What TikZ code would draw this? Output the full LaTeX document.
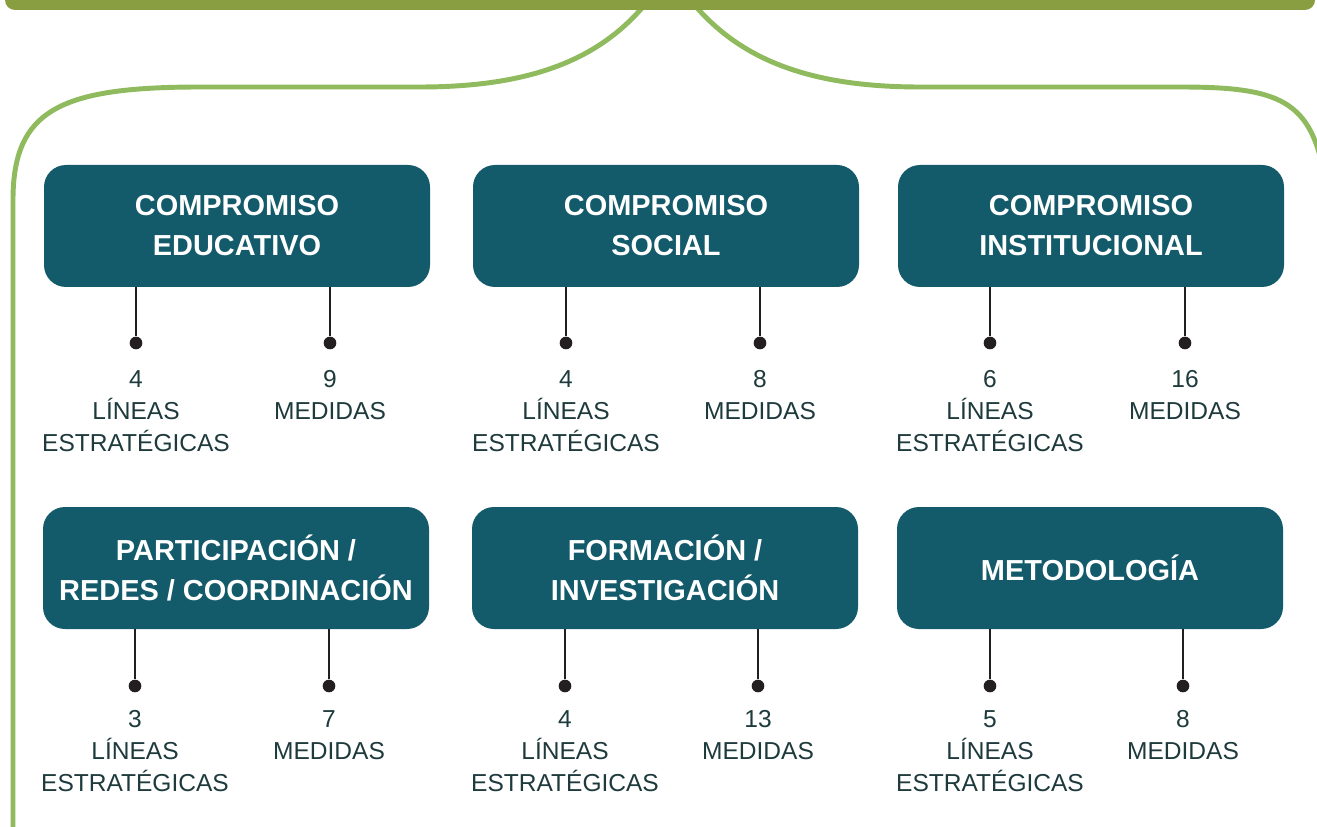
\documentclass[tikz,border=0pt]{standalone}
\usepackage{fontspec}
\setmainfont{Liberation Sans}
\usepackage{tikz}

\definecolor{barolive}{RGB}{137,158,64}
\definecolor{branchgreen}{RGB}{143,186,94}
\definecolor{boxteal}{RGB}{19,90,106}
\definecolor{stemblack}{RGB}{35,31,32}
\definecolor{labelslate}{RGB}{30,58,60}

\begin{document}
\begin{tikzpicture}[x=0.75pt,y=0.75pt,yscale=-1,xscale=1,
  branch/.style={draw=branchgreen,line width=3.7pt},
  cbox/.style={fill=boxteal,rounded corners=16.5pt,minimum width=289.5pt,minimum height=91.5pt,
    inner sep=0pt,align=center,text=white,font=\bfseries\fontsize{21.7pt}{30pt}\selectfont},
  dot/.style={circle,fill=stemblack,inner sep=0pt,minimum size=9.5pt},
  stem/.style={draw=stemblack,line width=2pt},
  count/.style={anchor=north,inner sep=0pt,align=center,text=labelslate,font=\fontsize{18.4pt}{24pt}\selectfont}]
\useasboundingbox (0,0) rectangle (1317,827);

%Curves: branches from the top bar
\draw[branch] (647,2) .. controls (600,60) and (530,87) .. (420,87) -- (200,87) .. controls (60,87) and (13,110) .. (13,200) -- (13,840);
\draw[branch] (692,2) .. controls (740,60) and (810,87) .. (920,87) -- (1180,87) .. controls (1280,87) and (1312,100) .. (1325,180) -- (1325,840);
%Shape: top bar
\fill[barolive,rounded corners=7.5pt] (5,-30) rectangle (1315,10);

%Boxes: first row
\node[cbox] (edu) at (237,226) {COMPROMISO\\EDUCATIVO};
\node[cbox] (soc) at (666,226) {COMPROMISO\\SOCIAL};
\node[cbox] (inst) at (1091,226) {COMPROMISO\\INSTITUCIONAL};
%Boxes: second row
\node[cbox] (part) at (236,568) {PARTICIPACIÓN /\\REDES / COORDINACIÓN};
\node[cbox] (form) at (665,568) {FORMACIÓN /\\INVESTIGACIÓN};
\node[cbox] (meto) at (1090,568) {METODOLOGÍA};

%Dots
\node[dot] (edu-l) at (136,343) {};
\node[dot] (edu-m) at (330,343) {};
\node[dot] (soc-l) at (566,343) {};
\node[dot] (soc-m) at (760,343) {};
\node[dot] (inst-l) at (990,343) {};
\node[dot] (inst-m) at (1185,343) {};
\node[dot] (part-l) at (135,686) {};
\node[dot] (part-m) at (329,686) {};
\node[dot] (form-l) at (565,686) {};
\node[dot] (form-m) at (758,686) {};
\node[dot] (meto-l) at (990,686) {};
\node[dot] (meto-m) at (1183,686) {};

%Stems
\draw[stem] (edu.south -| edu-l) -- (edu-l);
\draw[stem] (edu.south -| edu-m) -- (edu-m);
\draw[stem] (soc.south -| soc-l) -- (soc-l);
\draw[stem] (soc.south -| soc-m) -- (soc-m);
\draw[stem] (inst.south -| inst-l) -- (inst-l);
\draw[stem] (inst.south -| inst-m) -- (inst-m);
\draw[stem] (part.south -| part-l) -- (part-l);
\draw[stem] (part.south -| part-m) -- (part-m);
\draw[stem] (form.south -| form-l) -- (form-l);
\draw[stem] (form.south -| form-m) -- (form-m);
\draw[stem] (meto.south -| meto-l) -- (meto-l);
\draw[stem] (meto.south -| meto-m) -- (meto-m);

% Text Node
\node[count] (edu-lt) at (136,370) {4\\LÍNEAS\\ESTRATÉGICAS};
\node[count] (edu-mt) at (330,370) {9\\MEDIDAS};
\node[count] (soc-lt) at (566,370) {4\\LÍNEAS\\ESTRATÉGICAS};
\node[count] (soc-mt) at (760,370) {8\\MEDIDAS};
\node[count] (inst-lt) at (990,370) {6\\LÍNEAS\\ESTRATÉGICAS};
\node[count] (inst-mt) at (1185,370) {16\\MEDIDAS};
% Text Node
\node[count] (part-lt) at (135,710) {3\\LÍNEAS\\ESTRATÉGICAS};
\node[count] (part-mt) at (329,710) {7\\MEDIDAS};
\node[count] (form-lt) at (565,710) {4\\LÍNEAS\\ESTRATÉGICAS};
\node[count] (form-mt) at (758,710) {13\\MEDIDAS};
\node[count] (meto-lt) at (990,710) {5\\LÍNEAS\\ESTRATÉGICAS};
\node[count] (meto-mt) at (1183,710) {8\\MEDIDAS};

\end{tikzpicture}
\end{document}
